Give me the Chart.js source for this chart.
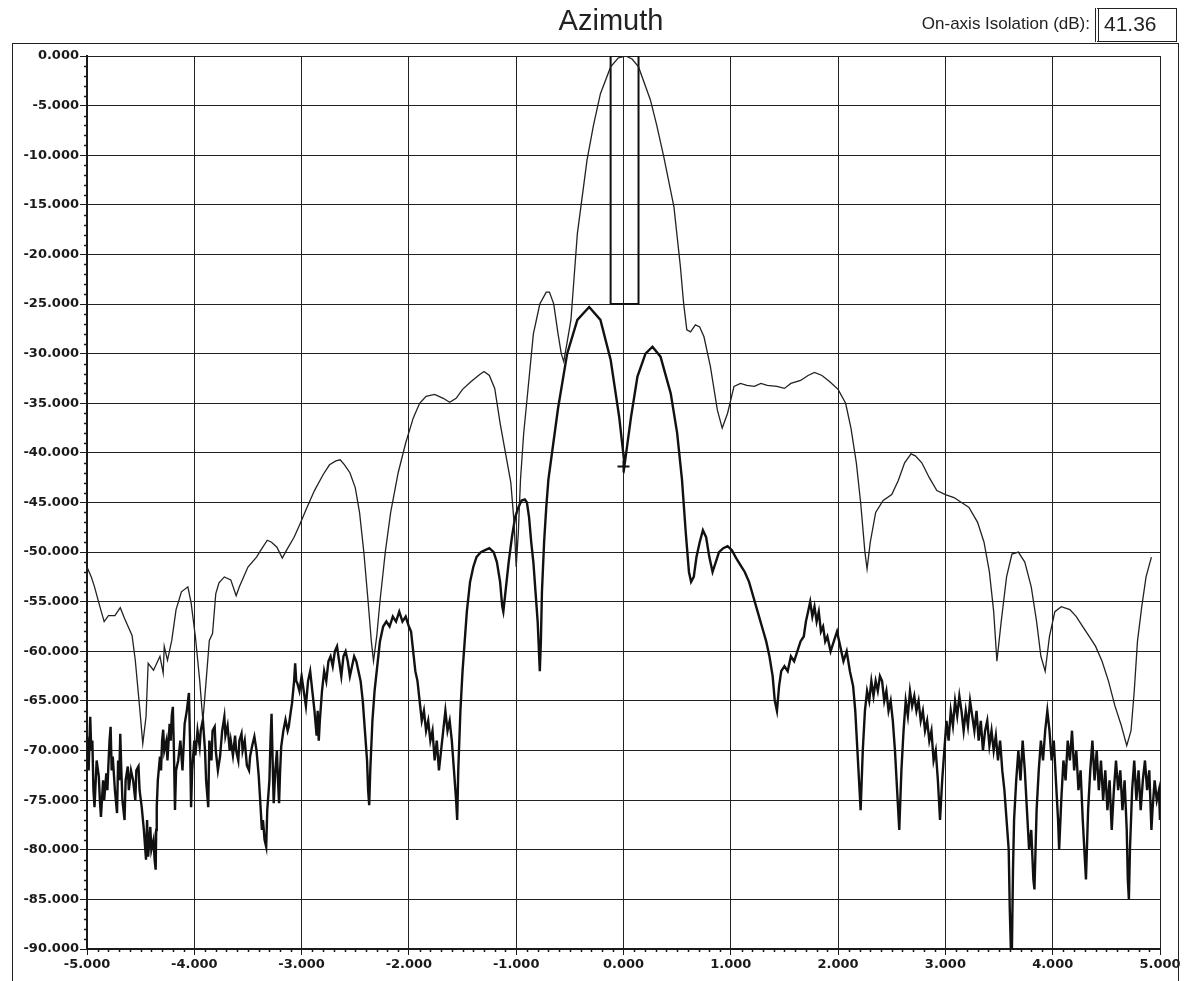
<!DOCTYPE html>
<html>
<head>
<meta charset="utf-8">
<title>Azimuth</title>
<script src="https://cdn.jsdelivr.net/npm/chart.js@4.4.1/dist/chart.umd.min.js"></script>
<style>
  html, body { margin: 0; padding: 0; background: #fff; }
  #wrap { position: relative; width: 1184px; height: 981px; overflow: hidden; }
  #frame { position: absolute; left: 12px; top: 43px; width: 1167px; height: 960px;
           border: 1.5px solid #222; box-sizing: border-box; }
  #chartBox { position: absolute; left: 0; top: 0; width: 1184px; height: 981px; }
  #title { position: absolute; left: 511px; width: 200px; top: 4px; text-align: center;
           font: 29px "Liberation Sans", Arial, sans-serif; color: #222; }
  #isoLabel { position: absolute; right: 94px; top: 14px;
              font: 17px "Liberation Sans", Arial, sans-serif; color: #222; }
  #isoBox { position: absolute; left: 1095px; top: 8px; width: 82px; height: 34px; box-sizing: border-box;
            border: 1.5px solid #222; border-left: 4px double #222;
            font: 21px "Liberation Sans", Arial, sans-serif; color: #222; padding: 3px 0 0 5px; }
</style>
</head>
<body>
<div id="wrap">
  <div id="frame"></div>
  <div id="chartBox"><canvas id="chart"></canvas></div>
  <div id="title">Azimuth</div>
  <div id="isoLabel">On-axis Isolation (dB):</div>
  <div id="isoBox">41.36</div>
</div>
<script>
// Azimuth pattern, angle (deg) vs level (dB)
const xTicks = [-5, -4, -3, -2, -1, 0, 1, 2, 3, 4, 5];
const yTicks = [0, -5, -10, -15, -20, -25, -30, -35, -40, -45, -50, -55, -60, -65, -70, -75, -80, -85, -90];

// thin trace (sum pattern)
const sumX = [-5.00,-4.96,-4.93,-4.88,-4.84,-4.80,-4.74,-4.69,-4.65,-4.58,-4.55,-4.51,-4.48,-4.45,-4.43,-4.38,-4.32,-4.29,-4.28,-4.25,-4.21,-4.17,-4.12,-4.06,-4.03,-3.99,-3.95,-3.92,-3.89,-3.86,-3.83,-3.80,-3.77,-3.72,-3.66,-3.61,-3.58,-3.50,-3.42,-3.38,-3.32,-3.28,-3.23,-3.18,-3.14,-3.07,-3.02,-2.95,-2.88,-2.80,-2.74,-2.68,-2.64,-2.60,-2.55,-2.50,-2.46,-2.42,-2.38,-2.35,-2.33,-2.30,-2.27,-2.22,-2.17,-2.10,-2.03,-1.96,-1.90,-1.84,-1.76,-1.68,-1.62,-1.56,-1.50,-1.42,-1.34,-1.30,-1.25,-1.20,-1.15,-1.10,-1.05,-1.02,-1.00,-0.98,-0.96,-0.93,-0.90,-0.84,-0.78,-0.72,-0.69,-0.65,-0.61,-0.58,-0.557,-0.52,-0.49,-0.43,-0.34,-0.28,-0.215,-0.12,-0.05,0.02,0.08,0.14,0.25,0.31,0.376,0.47,0.53,0.56,0.59,0.625,0.67,0.71,0.75,0.81,0.875,0.92,0.97,1.03,1.09,1.15,1.22,1.28,1.34,1.43,1.50,1.56,1.65,1.72,1.78,1.85,1.92,2.00,2.07,2.12,2.17,2.21,2.25,2.27,2.30,2.35,2.42,2.50,2.56,2.62,2.68,2.72,2.78,2.85,2.92,3.00,3.08,3.15,3.22,3.30,3.36,3.41,3.45,3.48,3.52,3.57,3.62,3.68,3.74,3.80,3.85,3.89,3.93,3.97,4.02,4.08,4.16,4.22,4.28,4.34,4.40,4.46,4.52,4.58,4.64,4.69,4.73,4.76,4.79,4.83,4.87,4.92,4.96,5.00];
const sumY = [-51.5,-52.5,-53.5,-55.5,-57.0,-56.4,-56.4,-55.6,-56.7,-58.4,-60.9,-65.6,-69.3,-66.6,-61.2,-61.9,-60.5,-62.2,-59.5,-60.9,-58.9,-55.8,-54.0,-53.5,-55.1,-58.5,-62.9,-67.0,-63.0,-58.9,-58.2,-54.2,-53.1,-52.5,-52.8,-54.4,-53.5,-51.5,-50.5,-49.8,-48.8,-49.0,-49.5,-50.6,-49.8,-48.5,-47.3,-45.5,-43.8,-42.2,-41.2,-40.8,-40.7,-41.2,-42.0,-43.5,-46.0,-50.0,-55.0,-59.0,-61.0,-58.5,-55.0,-50.0,-46.0,-42.0,-39.0,-36.5,-35.0,-34.3,-34.1,-34.5,-34.9,-34.5,-33.6,-32.8,-32.1,-31.8,-32.2,-33.5,-37.0,-40.0,-43.0,-47.0,-51.5,-48.0,-42.7,-38.0,-34.7,-28.0,-25.0,-23.8,-23.8,-25.0,-28.0,-30.0,-30.8,-28.5,-26.6,-17.9,-10.5,-7.0,-3.8,-1.1,-0.2,0.0,-0.3,-1.1,-4.4,-7.0,-10.2,-15.2,-21.2,-24.9,-27.6,-27.8,-27.1,-27.3,-28.3,-31.3,-35.7,-37.5,-36.0,-33.3,-33.0,-33.2,-33.3,-33.0,-33.2,-33.3,-33.5,-33.0,-32.7,-32.2,-31.9,-32.2,-32.8,-33.6,-35.0,-37.5,-41.0,-45.0,-50.0,-51.7,-49.0,-46.0,-44.8,-44.2,-42.8,-41.0,-40.1,-40.3,-41.0,-42.5,-43.8,-44.2,-44.5,-45.0,-45.5,-47.0,-49.0,-52.0,-56.0,-61.0,-57.0,-52.5,-50.2,-50.0,-51.0,-53.5,-57.0,-60.5,-62.0,-58.5,-56.0,-55.5,-55.8,-56.5,-57.5,-58.5,-59.5,-61.0,-63.0,-65.5,-67.5,-69.5,-68.0,-64.0,-59.0,-55.5,-52.5,-50.5];

// thick trace (difference pattern)
const difX = [
  -5.00,-4.985,-4.97,-4.96,-4.95,-4.94,-4.93,-4.91,-4.89,-4.88,-4.87,-4.85,-4.84,-4.82,-4.81,-4.80,-4.79,-4.78,-4.77,-4.76,
  -4.74,-4.72,-4.71,-4.70,-4.69,-4.68,-4.67,-4.65,-4.64,-4.62,-4.61,-4.59,-4.57,-4.55,-4.54,-4.52,-4.51,-4.49,-4.47,-4.45,
  -4.44,-4.43,-4.41,-4.40,-4.38,-4.37,-4.36,-4.355,-4.35,-4.34,-4.32,-4.31,-4.30,-4.29,-4.28,-4.26,-4.25,-4.23,-4.22,-4.21,
  -4.20,-4.19,-4.18,-4.17,-4.15,-4.13,-4.11,-4.09,-4.07,-4.05,-4.04,-4.03,-4.02,-4.00,-3.99,-3.97,-3.95,-3.94,-3.92,-3.90,
  -3.89,-3.87,-3.86,-3.84,-3.83,-3.81,-3.80,-3.78,-3.76,-3.74,-3.72,-3.71,-3.69,-3.67,-3.66,-3.64,-3.62,-3.61,-3.59,-3.58,
  -3.56,-3.55,-3.53,-3.51,-3.49,-3.48,-3.46,-3.44,-3.42,-3.40,-3.39,-3.37,-3.36,-3.345,-3.33,-3.32,-3.30,-3.29,-3.28,-3.27,
  -3.26,-3.245,-3.23,-3.22,-3.21,-3.20,-3.19,-3.17,-3.15,-3.13,-3.12,-3.10,-3.09,-3.07,-3.06,-3.05,-3.04,-3.02,
  -3.00,-2.98,-2.96,-2.94,-2.92,-2.90,-2.88,-2.86,-2.85,-2.84,-2.83,-2.81,-2.79,-2.77,-2.75,-2.73,-2.71,-2.69,-2.67,-2.65,
  -2.63,-2.61,-2.59,-2.57,-2.55,-2.53,-2.51,-2.49,-2.47,-2.45,-2.43,-2.41,-2.39,-2.38,-2.37,-2.36,-2.34,-2.32,-2.30,-2.27,
  -2.24,-2.21,-2.18,-2.15,-2.12,-2.09,-2.06,-2.03,-2.00,-1.98,-1.96,-1.94,-1.92,-1.90,-1.88,-1.86,-1.84,-1.82,-1.80,-1.78,
  -1.76,-1.74,-1.72,-1.70,-1.68,-1.66,-1.64,-1.62,-1.60,-1.58,-1.56,-1.55,-1.54,-1.52,-1.50,-1.48,-1.46,-1.43,-1.40,-1.37,
  -1.33,-1.29,-1.25,-1.21,-1.18,-1.15,-1.13,-1.12,-1.10,-1.07,-1.04,-1.01,-0.98,-0.95,-0.92,-0.90,-0.88,-0.86,-0.84,-0.82,
  -0.80,-0.78,-0.77,-0.76,-0.74,-0.72,-0.70,-0.61,-0.525,-0.43,-0.32,-0.215,-0.12,-0.04,0.01,0.07,0.13,0.205,0.27,0.345,
  0.44,0.50,0.545,0.58,0.61,0.63,0.655,0.68,0.71,0.74,0.77,0.80,0.83,0.86,0.89,0.93,0.97,1.01,1.05,1.09,
  1.13,1.17,1.21,1.25,1.29,1.33,1.36,1.39,1.41,1.43,1.45,1.47,1.50,1.53,1.56,1.59,1.62,1.65,1.68,1.70,
  1.72,1.74,1.76,1.78,1.80,1.82,1.84,1.86,1.88,1.90,1.93,1.96,1.99,2.02,2.05,2.08,2.11,2.14,2.16,2.18,
  2.20,2.21,2.23,2.25,2.27,2.29,2.31,2.33,2.35,2.37,2.39,2.41,2.43,2.45,2.47,2.49,2.51,2.53,2.55,2.57,
  2.59,2.61,2.63,2.65,2.67,2.69,2.71,2.73,2.75,2.77,2.79,2.81,2.83,2.85,2.87,2.89,2.91,2.93,2.95,2.97,
  2.99,3.01,3.03,3.05,3.07,3.09,3.11,3.13,3.15,3.17,3.19,3.21,3.23,3.25,3.27,3.29,3.31,3.33,3.35,3.37,
  3.39,3.41,3.43,3.45,3.47,3.49,3.51,3.53,3.55,3.57,3.59,3.60,3.61,3.62,3.63,3.64,3.66,3.68,3.70,3.72,
  3.74,3.76,3.78,3.80,3.82,3.83,3.85,3.87,3.89,3.91,3.93,3.95,3.97,3.99,4.01,4.03,4.05,4.06,4.08,4.10,
  4.12,4.14,4.16,4.18,4.20,4.22,4.24,4.26,4.28,4.30,4.31,4.33,4.35,4.37,4.39,4.41,4.43,4.45,4.47,4.49,
  4.51,4.53,4.55,4.57,4.59,4.61,4.63,4.65,4.67,4.69,4.70,4.71,4.72,4.74,4.76,4.78,4.80,4.82,4.84,4.86,
  4.88,4.90,4.92,4.93,4.95,4.97,4.99,5.00];
const difY = [
  -68.6,-72.0,-66.6,-70.0,-69.0,-74.0,-75.7,-71.0,-72.6,-75.0,-76.7,-73.0,-75.0,-72.3,-74.0,-71.3,-69.0,-67.6,-72.0,-70.6,
  -74.0,-76.3,-71.0,-73.0,-68.3,-72.0,-75.0,-77.0,-73.0,-71.6,-74.0,-72.0,-73.0,-75.0,-72.0,-71.6,-74.0,-75.7,-78.0,-81.0,
  -77.0,-80.7,-77.7,-80.0,-79.0,-81.0,-82.0,-78.0,-75.7,-73.0,-70.6,-72.0,-69.0,-67.9,-70.0,-69.0,-71.0,-67.3,-69.0,-66.5,
  -65.6,-70.0,-76.0,-72.0,-71.0,-69.0,-72.0,-67.3,-66.0,-64.2,-69.0,-75.7,-72.0,-69.0,-70.5,-68.0,-69.6,-68.0,-66.9,-70.0,
  -73.0,-75.7,-69.0,-71.0,-68.0,-67.6,-70.0,-72.0,-70.6,-68.0,-66.6,-68.5,-67.5,-70.0,-69.0,-70.5,-68.5,-70.0,-71.0,-69.0,
  -68.3,-70.0,-69.0,-71.5,-72.0,-70.6,-69.5,-68.6,-70.0,-72.5,-74.3,-78.0,-77.0,-79.0,-79.7,-76.0,-73.0,-69.0,-66.3,-71.0,
  -75.3,-72.0,-70.0,-73.0,-75.3,-72.0,-69.6,-68.0,-66.9,-68.0,-67.6,-66.0,-65.3,-63.0,-61.2,-63.0,-63.2,-64.0,
  -62.5,-64.0,-65.5,-63.0,-62.0,-64.0,-66.0,-68.5,-66.0,-69.0,-67.0,-64.0,-62.0,-63.0,-61.0,-60.5,-61.5,-60.0,-59.5,-61.0,
  -62.5,-60.5,-60.0,-61.0,-62.5,-61.5,-60.5,-61.0,-62.0,-63.0,-65.0,-68.0,-71.0,-74.0,-75.5,-72.0,-67.0,-64.0,-62.0,-59.0,
  -57.5,-57.0,-57.5,-56.5,-57.0,-56.0,-57.0,-56.5,-57.5,-58.0,-60.0,-62.0,-63.0,-65.0,-67.0,-66.0,-68.0,-67.0,-69.0,-68.0,
  -71.0,-69.0,-72.0,-70.0,-68.0,-66.0,-68.0,-67.0,-69.0,-72.0,-75.0,-77.0,-72.0,-66.0,-62.0,-59.0,-56.0,-53.0,-51.5,-50.5,
  -50.0,-49.8,-49.6,-50.0,-51.0,-53.0,-55.5,-56.0,-54.0,-51.0,-48.5,-46.5,-45.5,-44.8,-44.7,-45.0,-46.5,-49.0,-51.0,-54.0,
  -57.0,-62.0,-59.0,-54.0,-49.0,-45.5,-42.7,-35.5,-30.0,-26.6,-25.3,-26.6,-30.6,-36.4,-41.2,-36.4,-32.3,-30.0,-29.3,-30.3,
  -34.0,-38.0,-42.7,-48.0,-52.0,-53.0,-52.5,-50.5,-49.0,-47.8,-48.5,-50.5,-52.0,-51.0,-50.0,-49.6,-49.4,-49.8,-50.6,-51.3,
  -52.0,-53.0,-54.5,-56.0,-57.5,-59.0,-60.5,-62.5,-65.0,-66.0,-63.5,-62.0,-61.5,-62.0,-60.5,-61.0,-60.0,-59.0,-58.5,-57.0,
  -56.0,-55.0,-56.5,-55.5,-57.0,-56.0,-58.0,-57.5,-59.0,-58.5,-60.0,-59.0,-58.0,-59.5,-61.0,-60.0,-62.0,-63.5,-66.0,-70.0,
  -74.0,-76.0,-70.0,-66.0,-64.0,-65.0,-63.0,-64.5,-63.0,-64.0,-62.5,-63.0,-65.0,-64.0,-66.0,-65.0,-67.0,-70.0,-74.0,-78.0,
  -72.0,-68.0,-65.0,-66.5,-64.0,-65.5,-64.5,-66.0,-65.0,-67.0,-66.0,-68.0,-67.0,-69.0,-68.0,-71.0,-70.0,-73.0,-77.0,-73.0,
  -70.0,-67.0,-69.0,-66.0,-67.5,-65.0,-66.5,-64.5,-66.0,-68.0,-66.0,-67.5,-65.0,-66.5,-68.0,-66.0,-69.0,-67.0,-70.0,-68.0,
  -67.0,-69.5,-68.0,-70.0,-68.5,-71.0,-69.0,-72.0,-74.0,-77.0,-80.0,-86.0,-90.0,-90.0,-82.0,-77.0,-73.0,-70.0,-73.0,-69.0,
  -72.0,-76.0,-80.0,-78.0,-83.0,-84.0,-76.0,-72.0,-69.0,-71.0,-68.0,-66.0,-68.0,-71.0,-69.0,-73.0,-77.0,-80.0,-75.0,-71.0,
  -73.0,-69.0,-71.0,-68.0,-72.0,-70.0,-74.0,-72.0,-77.0,-81.0,-83.0,-76.0,-72.0,-69.0,-73.0,-70.0,-74.0,-71.0,-75.0,-72.0,
  -76.0,-73.0,-78.0,-74.0,-71.0,-74.0,-72.0,-76.0,-73.0,-78.0,-83.0,-85.0,-80.0,-74.0,-71.0,-75.0,-72.0,-76.0,-73.0,-71.0,
  -74.0,-72.0,-78.0,-76.0,-73.0,-75.0,-74.0,-77.0];

// on-axis gate box and null marker
const gateX = [-0.12, -0.12, 0.14, 0.14, -0.12];
const gateY = [0, -25, -25, 0, 0];
const nullX = [0.0];
const nullY = [-41.36];

const toPts = (xs, ys) => xs.map((x, i) => ({ x, y: ys[i] }));

const tickFont = { family: 'DejaVu Sans', size: 13, weight: 'bold' };
const ink = '#1a1a1a';

// minor tick marks, drawn through the axes
const minorTicks = {
  id: 'minorTicks',
  afterDraw(chart) {
    const { ctx, chartArea, scales } = chart;
    ctx.save();
    ctx.strokeStyle = ink;
    ctx.lineWidth = 1.5;
    ctx.beginPath();
    for (let v = -89; v < 0; v++) {
      if (v % 5 === 0) continue;
      const y = Math.round(scales.y.getPixelForValue(v)) + 0.5;
      ctx.moveTo(chartArea.left - 3, y);
      ctx.lineTo(chartArea.left, y);
    }
    for (let i = -49; i < 50; i++) {
      if (i % 10 === 0) continue;
      const x = Math.round(scales.x.getPixelForValue(i / 10)) + 0.5;
      ctx.moveTo(x, chartArea.bottom);
      ctx.lineTo(x, chartArea.bottom + 3);
    }
    ctx.stroke();
    ctx.restore();
  }
};

new Chart(document.getElementById('chart'), {
  type: 'scatter',
  data: {
    datasets: [
      { data: toPts(sumX, sumY), showLine: true, borderColor: '#222', borderWidth: 1.3, pointRadius: 0, tension: 0 },
      { data: toPts(difX, difY), showLine: true, borderColor: '#111', borderWidth: 2.4, pointRadius: 0, tension: 0 },
      { data: toPts(gateX, gateY), showLine: true, borderColor: '#111', borderWidth: 2, pointRadius: 0, tension: 0 },
      { data: toPts(nullX, nullY), showLine: false, pointStyle: 'cross', pointRadius: 6, borderColor: '#111', borderWidth: 2 }
    ]
  },
  plugins: [minorTicks],
  options: {
    responsive: true,
    maintainAspectRatio: false,
    animation: false,
    layout: { padding: { left: 0, top: 56, right: 24, bottom: 0 } },
    plugins: { legend: { display: false }, tooltip: { enabled: false } },
    scales: {
      x: {
        type: 'linear', min: -5, max: 5,
        afterFit: (s) => { s.height = 32; },
        afterBuildTicks: (s) => { s.ticks = xTicks.map(v => ({ value: v })); },
        ticks: { font: tickFont, color: ink, padding: 2, callback: (v) => v.toFixed(3) },
        grid: { color: '#222', lineWidth: 1, tickLength: 6, tickColor: ink },
        border: { color: ink, width: 2 }
      },
      y: {
        type: 'linear', min: -90, max: 0,
        afterFit: (s) => { s.width = 87; },
        afterBuildTicks: (s) => { s.ticks = yTicks.map(v => ({ value: v })); },
        ticks: { font: tickFont, color: ink, padding: 1, callback: (v) => v.toFixed(3) },
        grid: { color: '#222', lineWidth: 1, tickLength: 7, tickColor: ink },
        border: { color: ink, width: 2 }
      }
    }
  }
});
</script>
</body>
</html>
